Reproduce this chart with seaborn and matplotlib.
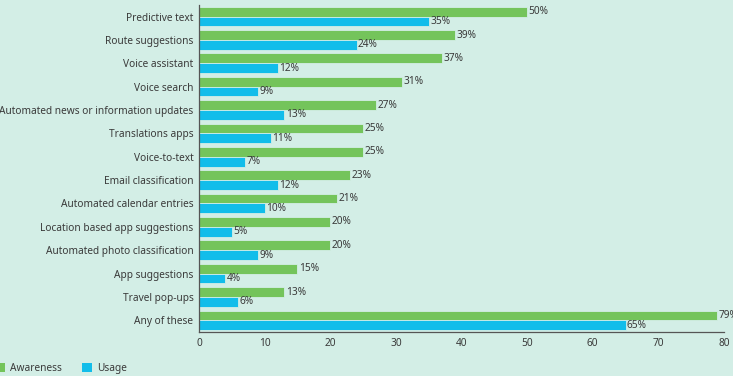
import matplotlib
matplotlib.use("Agg")
import matplotlib.pyplot as plt
import seaborn as sns
import pandas as pd

categories = ["Predictive text", "Route suggestions", "Voice assistant", "Voice search",
              "Automated news or information updates", "Translations apps", "Voice-to-text",
              "Email classification", "Automated calendar entries", "Location based app suggestions",
              "Automated photo classification", "App suggestions", "Travel pop-ups", "Any of these"]
awareness = [50, 39, 37, 31, 27, 25, 25, 23, 21, 20, 20, 15, 13, 79]
usage = [35, 24, 12, 9, 13, 11, 7, 12, 10, 5, 9, 4, 6, 65]
series = ["Awareness", "Usage"]
x_ticks = [0, 10, 20, 30, 40, 50, 60, 70, 80]

bg = "#d3eee6"
colors = {"Awareness": "#74c45b", "Usage": "#12bdea"}
text_col = "#3a3a3a"

sns.set_theme(style="white")
plt.rcParams['font.family'] = ['Noto Sans', 'DejaVu Sans']

df = pd.DataFrame({
    "Category": categories * 2,
    "Series": [series[0]] * len(categories) + [series[1]] * len(categories),
    "Value": awareness + usage,
})

fig = plt.figure(figsize=(7.33, 3.76), dpi=100, facecolor=bg)
ax = fig.add_axes([0.2715, 0.117, 0.7162, 0.870])
ax.set_facecolor(bg)

sns.barplot(data=df, y="Category", x="Value", hue="Series", order=categories,
            hue_order=series, palette=colors, orient="h", width=0.84, saturation=1,
            edgecolor=bg, linewidth=0.6, ax=ax, legend=False)

for cont in ax.containers:
    ax.bar_label(cont, labels=[f"{int(round(v))}%" for v in cont.datavalues],
                 padding=1, fontsize=7.3, color=text_col)

ax.set_xlim(0, 80)
ax.set_ylim(len(categories) - 0.5, -0.5)
ax.set_xticks(x_ticks)
ax.set_xticklabels([str(t) for t in x_ticks])
ax.set_xlabel("")
ax.set_ylabel("")
ax.tick_params(axis="both", length=0, labelsize=7.3, colors=text_col)
ax.tick_params(axis="x", pad=4)
ax.tick_params(axis="y", pad=4)
for s in ["top", "right"]:
    ax.spines[s].set_visible(False)
for s in ["left", "bottom"]:
    ax.spines[s].set_color("#555555")
    ax.spines[s].set_linewidth(0.9)

from matplotlib.patches import Patch
handles = [Patch(facecolor=colors[s], edgecolor="none", label=s) for s in series]
fig.legend(handles=handles, loc="lower left", bbox_to_anchor=(-0.02, -0.018), ncol=2,
           frameon=False, fontsize=7.3, handlelength=1.0, handleheight=1.0,
           handletextpad=0.5, columnspacing=2.0, labelcolor=text_col)

fig.savefig("out.png", dpi=100, facecolor=bg)
